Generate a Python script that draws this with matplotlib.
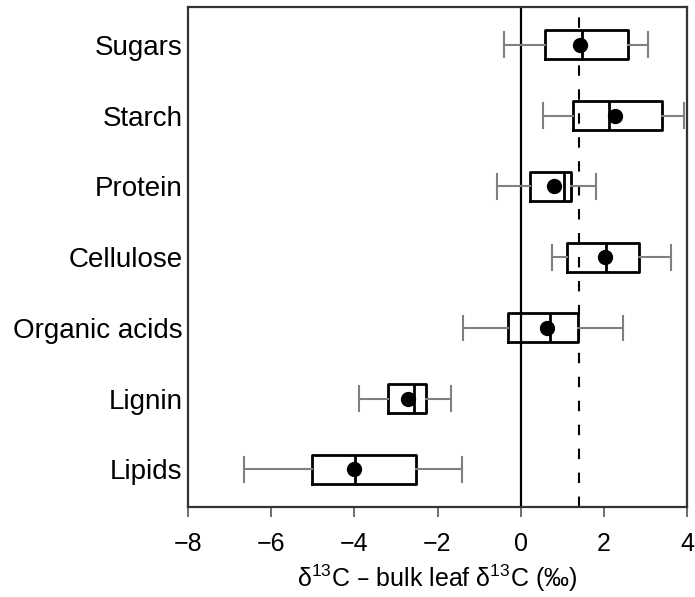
import matplotlib
matplotlib.use("Agg")
import matplotlib.pyplot as plt

matplotlib.rcParams['font.family'] = ['Liberation Sans', 'DejaVu Sans']
matplotlib.rcParams['mathtext.default'] = 'regular'

# compounds, top to bottom
compounds = ["Sugars", "Starch", "Protein", "Cellulose", "Organic acids", "Lignin", "Lipids"]
whisker_low = [-0.41, 0.53, -0.58, 0.76, -1.38, -3.89, -6.66]
q1 = [0.58, 1.27, 0.22, 1.12, -0.31, -3.20, -5.02]
median = [1.47, 2.12, 1.03, 2.04, 0.70, -2.57, -3.99]
q3 = [2.57, 3.41, 1.22, 2.84, 1.39, -2.28, -2.52]
whisker_high = [3.05, 3.92, 1.80, 3.62, 2.45, -1.68, -1.42]
mean = [1.42, 2.28, 0.79, 2.02, 0.63, -2.72, -4.00]
bulk_ref = 1.40  # dashed reference line

stats = []
for i in range(len(compounds)):
    stats.append(dict(label=compounds[i], whislo=whisker_low[i], q1=q1[i], med=median[i],
                      q3=q3[i], whishi=whisker_high[i], mean=mean[i], fliers=[]))
positions = list(range(len(compounds), 0, -1))

fig = plt.figure(figsize=(6.95, 5.97), dpi=100)
ax = fig.add_axes([0.2705, 0.1508, 0.718, 0.837])

ax.axvline(0, color="black", lw=1.6, zorder=1)
ax.axvline(bulk_ref, color="black", lw=1.5, ls=(0, (5, 6.5)), zorder=1)

ax.bxp(stats, positions=positions, orientation="horizontal", widths=0.41,
       showmeans=True, showfliers=False, patch_artist=False,
       boxprops=dict(color="black", lw=2.0),
       medianprops=dict(color="black", lw=2.0),
       whiskerprops=dict(color="#808080", lw=1.5),
       capprops=dict(color="#808080", lw=1.5),
       meanprops=dict(marker="o", markerfacecolor="black", markeredgecolor="black", markersize=10),
       capwidths=0.35, zorder=3)

ax.set_xlim(-8, 4)
ax.set_ylim(0.47, 7.53)
ax.set_xticks([-8, -6, -4, -2, 0, 2, 4])
ax.set_yticks(positions)
ax.set_yticklabels(compounds, fontsize=20)
ax.tick_params(axis="x", labelsize=18, length=7, width=1.2, color="#555555", pad=11)
ax.tick_params(axis="y", length=0, pad=4)
ax.set_xlabel(r"δ$^{13}$C – bulk leaf δ$^{13}$C (‰)", fontsize=18, labelpad=5)
for s in ax.spines.values():
    s.set_linewidth(1.6)
    s.set_color("#333333")

fig.savefig("out.png", dpi=100)
